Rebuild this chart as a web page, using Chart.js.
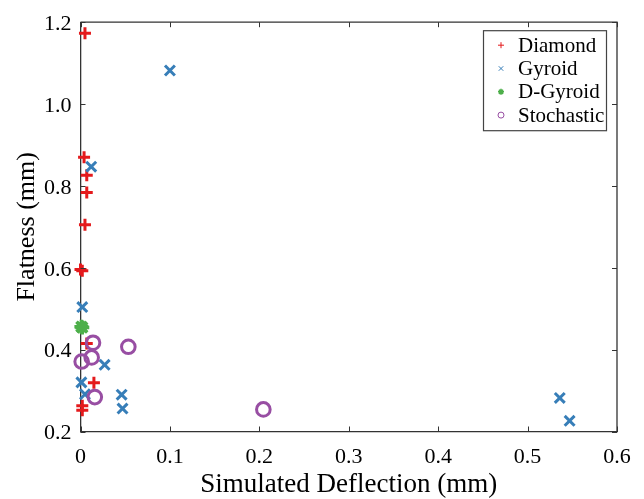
<!DOCTYPE html>
<html>
<head>
<meta charset="utf-8">
<script src="https://cdn.jsdelivr.net/npm/chart.js@4/dist/chart.umd.min.js"></script>
<style>
  html, body { margin: 0; padding: 0; background: #ffffff; }
  canvas { display: block; }
</style>
</head>
<body>
<canvas id="c" width="644" height="499"></canvas>
<script>
// ---- data ----
const seriesNames = ['Diamond', 'Gyroid', 'D-Gyroid', 'Stochastic'];
const diamondX = [0.005, 0.004, 0.007, 0.007, 0.005, 0.000, 0.002, 0.007, 0.015, 0.002, 0.002];
const diamondY = [1.173, 0.870, 0.826, 0.784, 0.705, 0.596, 0.593, 0.415, 0.319, 0.263, 0.252];
const gyroidX = [0.100, 0.012, 0.002, 0.027, 0.001, 0.005, 0.046, 0.047, 0.536, 0.547];
const gyroidY = [1.082, 0.847, 0.504, 0.363, 0.320, 0.291, 0.290, 0.256, 0.282, 0.226];
const dGyroidX = [0.001, 0.002];
const dGyroidY = [0.456, 0.454];
const stochasticX = [0.014, 0.0535, 0.0125, 0.0013, 0.016, 0.2045];
const stochasticY = [0.417, 0.407, 0.381, 0.371, 0.284, 0.254];
const xTicks = [0, 0.1, 0.2, 0.3, 0.4, 0.5, 0.6];
const yTicks = [0.2, 0.4, 0.6, 0.8, 1.0, 1.2];

const colors = ['#E41A1C', '#377EB8', '#4DAF4A', '#984EA3'];
const styles = ['cross', 'crossRot', 'star', 'circle'];
const SERIF = '"Liberation Serif", "Times New Roman", serif';

function pts(xs, ys) { return xs.map((x, i) => ({ x: x, y: ys[i] })); }

const datasets = [
  { label: seriesNames[0], data: pts(diamondX, diamondY), pointStyle: 'cross', pointRadius: 6, borderWidth: 3, order: 3 },
  { label: seriesNames[1], data: pts(gyroidX, gyroidY), pointStyle: 'crossRot', pointRadius: 7, borderWidth: 3, order: 2 },
  { label: seriesNames[2], data: pts(dGyroidX, dGyroidY), pointStyle: 'star', pointRadius: 7, borderWidth: 3.5, order: 1 },
  { label: seriesNames[3], data: pts(stochasticX, stochasticY), pointStyle: 'circle', pointRadius: 6.8, borderWidth: 3, order: 0 }
].map((d, i) => Object.assign(d, {
  borderColor: colors[i],
  backgroundColor: i === 3 ? 'rgba(0,0,0,0)' : colors[i],
  pointBorderColor: colors[i],
  pointBackgroundColor: i === 3 ? 'rgba(0,0,0,0)' : colors[i],
  pointBorderWidth: d.borderWidth,
  pointHoverRadius: d.pointRadius,
  clip: false,
  showLine: false
}));

// frame, inward ticks and boxed legend
const framePlugin = {
  id: 'frame',
  afterDraw(chart) {
    const ctx = chart.ctx;
    const a = chart.chartArea;
    const xs = chart.scales.x, ys = chart.scales.y;
    ctx.save();
    ctx.strokeStyle = '#333333';
    ctx.lineWidth = 1.3;
    ctx.beginPath();
    ctx.moveTo(a.left, a.top); ctx.lineTo(a.right, a.top); ctx.lineTo(a.right, a.bottom);
    ctx.stroke();
    ctx.lineWidth = 1;
    const tl = 5;
    ctx.beginPath();
    xTicks.forEach(v => {
      const px = Math.round(xs.getPixelForValue(v)) + 0.5;
      ctx.moveTo(px, a.bottom); ctx.lineTo(px, a.bottom - tl);
      ctx.moveTo(px, a.top); ctx.lineTo(px, a.top + tl);
    });
    yTicks.forEach(v => {
      const py = Math.round(ys.getPixelForValue(v)) + 0.5;
      ctx.moveTo(a.left, py); ctx.lineTo(a.left + tl, py);
      ctx.moveTo(a.right, py); ctx.lineTo(a.right - tl, py);
    });
    ctx.stroke();

    // legend
    const bx = a.right - 134, by = a.top + 8, bw = 123, bh = 100;
    ctx.fillStyle = '#ffffff';
    ctx.fillRect(bx, by, bw, bh);
    ctx.strokeStyle = '#444444';
    ctx.lineWidth = 1.2;
    ctx.strokeRect(bx + 0.5, by + 0.5, bw, bh);
    ctx.font = '21px ' + SERIF;
    ctx.textBaseline = 'middle';
    ctx.textAlign = 'left';
    seriesNames.forEach((name, i) => {
      const cy = by + 15 + i * 23.3;
      const cx = bx + 18;
      const r = 3;
      ctx.strokeStyle = colors[i];
      ctx.fillStyle = colors[i];
      ctx.lineWidth = 1;
      ctx.beginPath();
      if (styles[i] === 'cross') {
        ctx.moveTo(cx - r, cy); ctx.lineTo(cx + r, cy);
        ctx.moveTo(cx, cy - r); ctx.lineTo(cx, cy + r);
        ctx.stroke();
      } else if (styles[i] === 'crossRot') {
        const d = r * 0.75;
        ctx.moveTo(cx - d, cy - d); ctx.lineTo(cx + d, cy + d);
        ctx.moveTo(cx - d, cy + d); ctx.lineTo(cx + d, cy - d);
        ctx.stroke();
      } else if (styles[i] === 'star') {
        ctx.lineWidth = 1.6;
        ctx.moveTo(cx - r, cy); ctx.lineTo(cx + r, cy);
        ctx.moveTo(cx, cy - r); ctx.lineTo(cx, cy + r);
        const d = r * 0.7;
        ctx.moveTo(cx - d, cy - d); ctx.lineTo(cx + d, cy + d);
        ctx.moveTo(cx - d, cy + d); ctx.lineTo(cx + d, cy - d);
        ctx.stroke();
      } else {
        ctx.arc(cx, cy, r, 0, Math.PI * 2);
        ctx.stroke();
      }
      ctx.fillStyle = '#000000';
      ctx.fillText(name, bx + 35, cy + 1);
    });
    ctx.restore();
  }
};

new Chart(document.getElementById('c'), {
  type: 'scatter',
  data: { datasets: datasets },
  options: {
    responsive: false,
    animation: false,
    devicePixelRatio: 1,
    layout: { padding: { top: 18, right: 27, left: 0, bottom: 0 } },
    plugins: { legend: { display: false }, tooltip: { enabled: false } },
    scales: {
      x: {
        type: 'linear',
        min: 0, max: 0.6,
        afterBuildTicks(scale) { scale.ticks = xTicks.map(v => ({ value: v })); },
        afterFit(scale) { scale.height = 67.5; },
        grid: { display: false, drawTicks: false },
        border: { display: true, color: '#333333', width: 1.3 },
        ticks: {
          color: '#000000',
          font: { family: SERIF, size: 22 },
          padding: 13,
          maxRotation: 0,
          callback: v => (v === 0 ? '0' : v.toFixed(1))
        },
        title: {
          display: true,
          text: 'Simulated Deflection (mm)',
          color: '#000000',
          font: { family: SERIF, size: 27, lineHeight: 1 },
          padding: { top: 0, bottom: 1 }
        }
      },
      y: {
        type: 'linear',
        min: 0.2, max: 1.2,
        afterBuildTicks(scale) { scale.ticks = yTicks.map(v => ({ value: v })); },
        afterFit(scale) { scale.width = 80.5; },
        grid: { display: false, drawTicks: false },
        border: { display: true, color: '#333333', width: 1.3 },
        ticks: {
          color: '#000000',
          font: { family: SERIF, size: 22 },
          padding: 9,
          labelOffset: 2,
          callback: v => v.toFixed(1)
        },
        title: {
          display: true,
          text: 'Flatness (mm)',
          color: '#000000',
          font: { family: SERIF, size: 26 },
          padding: { top: 12, bottom: 0 }
        }
      }
    }
  },
  plugins: [framePlugin]
});
</script>
</body>
</html>
